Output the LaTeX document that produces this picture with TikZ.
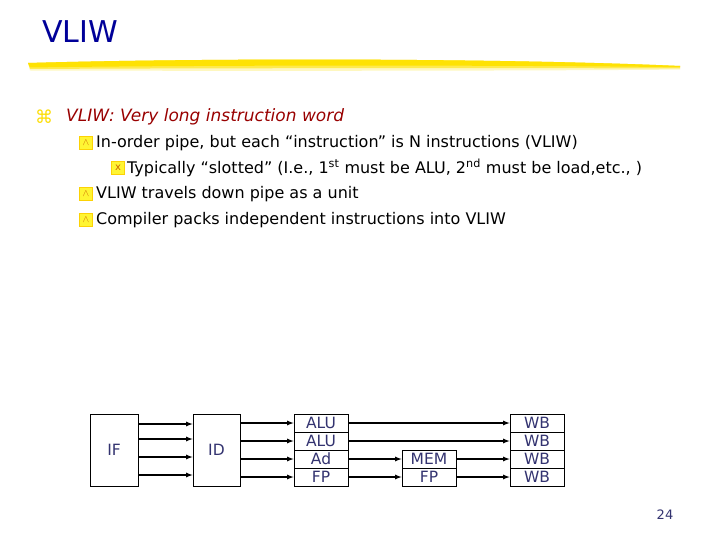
\documentclass[tikz,border=0pt]{standalone}
\usepackage{fontspec}
\setmainfont{DejaVu Sans}
\newfontfamily\symf{DejaVu Sans}
\begin{document}
\begin{tikzpicture}[x=1pt,y=-1pt,
  box/.style={draw=black,line width=0.8pt,fill=white,inner sep=0pt,font=\fontsize{15.5}{15.5}\selectfont,text=blue!30!black!80},
  arr/.style={-latex,line width=1.2pt},
  txt/.style={anchor=west,inner sep=0pt,font=\fontsize{16}{16}\selectfont},
  ico/.style={draw=yellow!70!orange,fill=yellow!80,minimum size=13pt,inner sep=0pt,font=\fontsize{10}{10}\selectfont,text=orange!80!black}]
\useasboundingbox[fill=white] (0,0) rectangle (720,540);
\node[anchor=west,inner sep=0pt,font=\fontsize{30}{30}\selectfont,text=blue!60!black] (title) at (42,32) {VLIW};
\foreach \w/\o in {9/0.25,6/0.6,3/1}{\fill[yellow!85!orange,opacity=\o] (28,63) .. controls (200,58) and (500,58) .. (680,66) -- (680,66+\w*0.4) .. controls (500,62+\w) and (200,62+\w) .. (30,66+\w*0.5) -- cycle;}
\node[inner sep=0pt,font=\symf\fontsize{18}{18}\selectfont,text=yellow!80!orange] (b0) at (44,117) {⌘};
\node[txt,font=\fontsize{17}{17}\selectfont\itshape,text=red!60!black] (t0) at (66,117) {VLIW: Very long instruction word};
\node[ico] (b1) at (86,143) {$\wedge$};
\node[txt] (t1) at (96,143) {In-order pipe, but each “instruction” is N instructions (VLIW)};
\node[ico] (b2) at (118,168) {x};
\node[txt] (t2) at (127,168) {Typically “slotted” (I.e., 1\textsuperscript{st} must be ALU, 2\textsuperscript{nd} must be load,etc., )};
\node[ico] (b3) at (86,194) {$\wedge$};
\node[txt] (t3) at (96,194) {VLIW travels down pipe as a unit};
\node[ico] (b4) at (86,220) {$\wedge$};
\node[txt] (t4) at (96,220) {Compiler packs independent instructions into VLIW};
% pipeline
\node[box,minimum width=48pt,minimum height=72pt] (IF) at (114,450) {IF};
\node[box,minimum width=47pt,minimum height=72pt] (ID) at (216.5,450) {ID};
\foreach \n/\t/\y in {a1/ALU/423,a2/ALU/441,a3/Ad/459,a4/FP/477}{\node[box,minimum width=54pt,minimum height=18pt] (\n) at (321,\y) {\t};}
\foreach \n/\t/\y in {m3/MEM/459,m4/FP/477}{\node[box,minimum width=54pt,minimum height=18pt] (\n) at (429,\y) {\t};}
\foreach \n/\y in {w1/423,w2/441,w3/459,w4/477}{\node[box,minimum width=54pt,minimum height=18pt] (\n) at (537,\y) {WB};}
\foreach \y in {424,439,457,475}{\draw[arr] (IF.east|-0,\y) -- (ID.west|-0,\y);}
\foreach \i in {1,2,3,4}{\draw[arr] (ID.east|-a\i) -- (a\i);}
\draw[arr] (a1) -- (w1); \draw[arr] (a2) -- (w2);
\draw[arr] (a3) -- (m3); \draw[arr] (a4) -- (m4);
\draw[arr] (m3) -- (w3); \draw[arr] (m4) -- (w4);
\node[font=\fontsize{13}{13}\selectfont,text=blue!30!black!80] (pg) at (665,515) {24};
\end{tikzpicture}
\end{document}
